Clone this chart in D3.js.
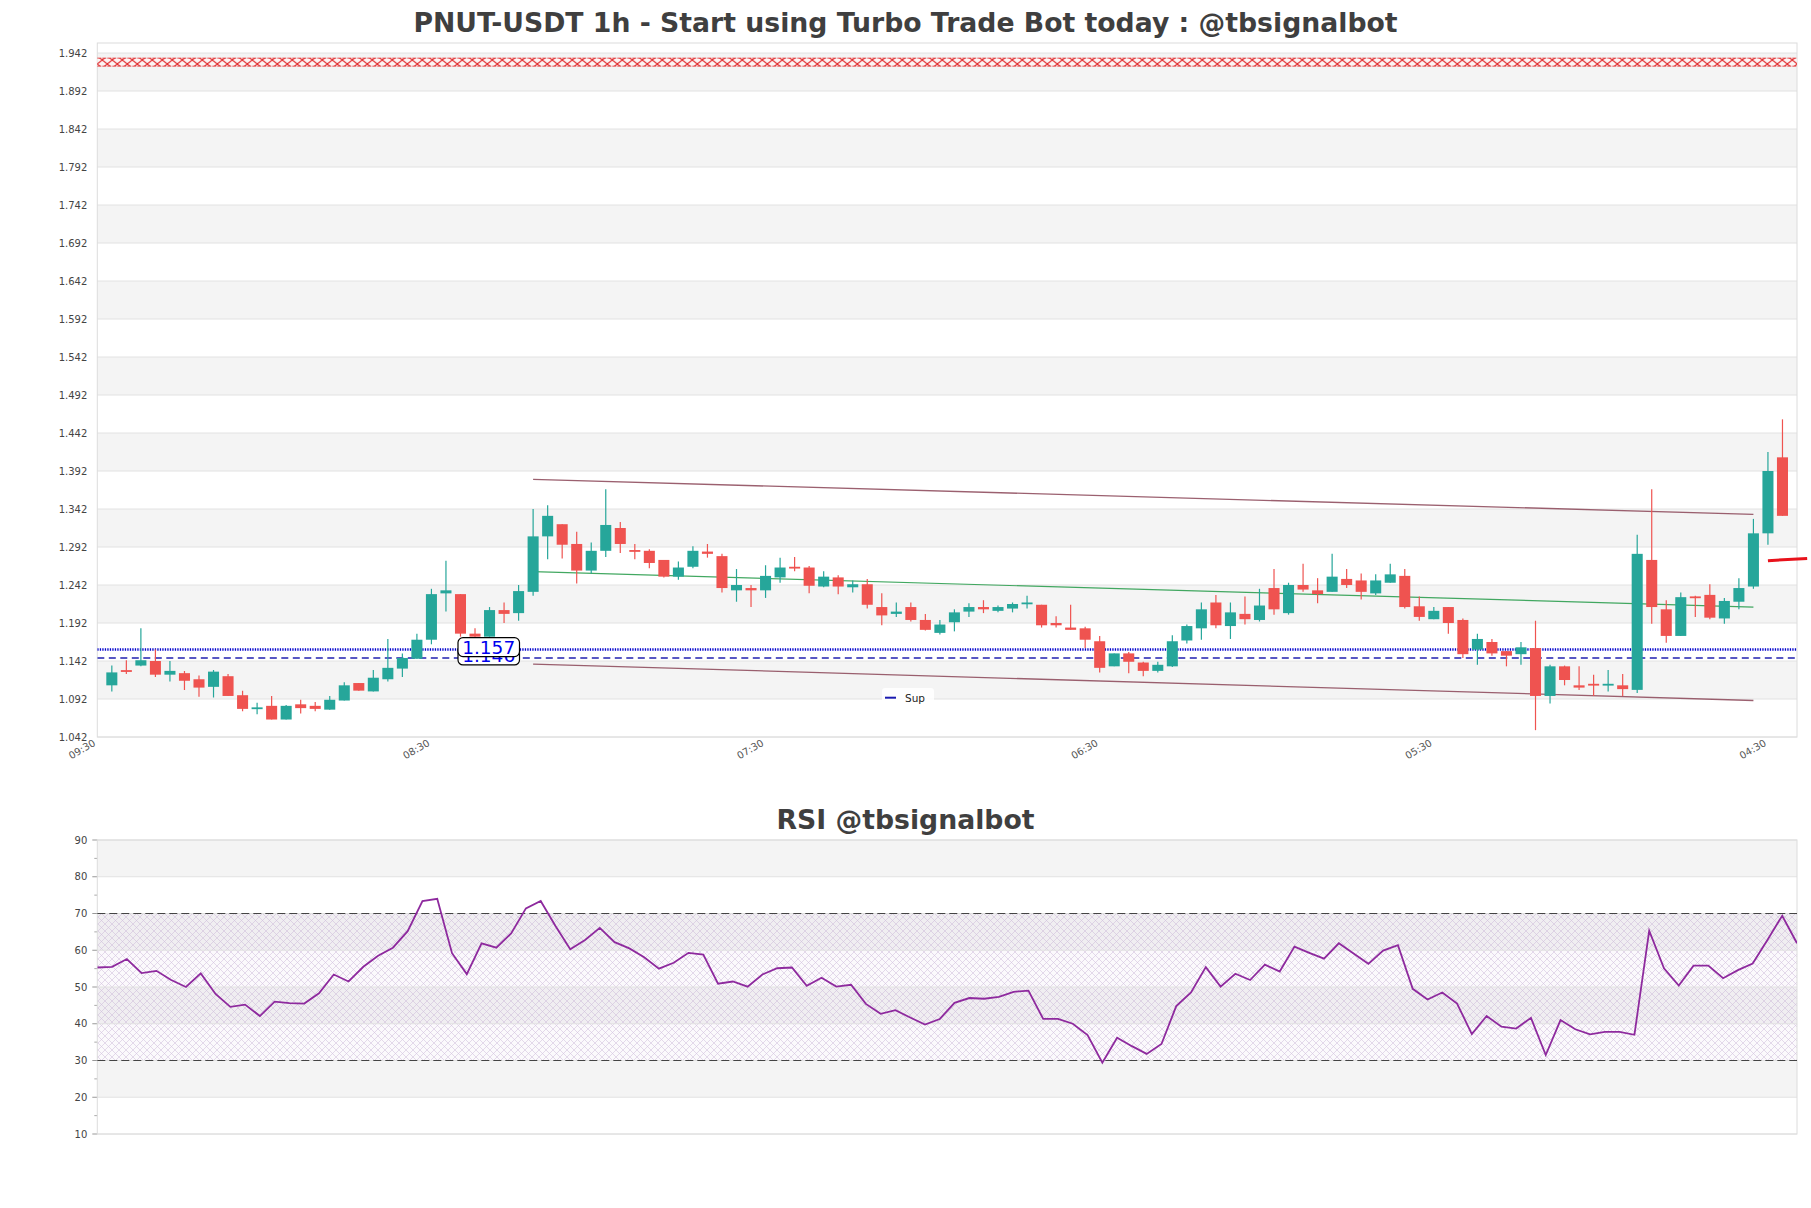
<!DOCTYPE html>
<html>
<head>
<meta charset="utf-8">
<script src="https://cdn.jsdelivr.net/npm/d3@7"></script>
<style>
  body { margin: 0; background: #fff; }
  svg text { font-family: "DejaVu Sans", sans-serif; }
</style>
</head>
<body>
<svg id="chart"></svg>
<script>
// ---- data ----
var opens  = [1.110,1.130,1.136,1.142,1.124,1.126,1.118,1.108,1.122,1.097,1.080,1.083,1.065,1.085,1.083,1.078,1.090,1.113,1.102,1.118,
              1.132,1.145,1.170,1.231,1.230,1.178,1.174,1.209,1.205,1.233,1.306,1.322,1.296,1.261,1.287,1.317,1.288,1.287,1.275,1.253,
              1.266,1.286,1.280,1.235,1.238,1.235,1.252,1.266,1.265,1.240,1.252,1.239,1.243,1.213,1.204,1.213,1.196,1.179,1.193,1.207,
              1.213,1.208,1.211,1.217,1.216,1.192,1.186,1.185,1.168,1.135,1.152,1.140,1.129,1.135,1.169,1.185,1.219,1.188,1.204,1.196,
              1.238,1.205,1.242,1.235,1.233,1.250,1.248,1.231,1.245,1.254,1.214,1.197,1.213,1.196,1.157,1.167,1.155,1.151,1.159,1.096,
              1.135,1.110,1.112,1.110,1.110,1.104,1.275,1.210,1.175,1.227,1.229,1.198,1.220,1.240,1.310,1.410];
var highs  = [1.136,1.143,1.185,1.157,1.142,1.129,1.123,1.130,1.125,1.103,1.087,1.096,1.084,1.091,1.088,1.096,1.114,1.113,1.130,1.171,
              1.152,1.178,1.237,1.274,1.230,1.185,1.213,1.219,1.242,1.342,1.347,1.322,1.312,1.298,1.368,1.325,1.296,1.289,1.275,1.273,
              1.293,1.296,1.283,1.263,1.242,1.268,1.278,1.279,1.267,1.260,1.255,1.248,1.250,1.231,1.219,1.219,1.204,1.196,1.210,1.218,
              1.222,1.215,1.219,1.228,1.216,1.201,1.216,1.187,1.175,1.152,1.154,1.141,1.141,1.176,1.190,1.219,1.229,1.219,1.227,1.237,
              1.263,1.245,1.270,1.251,1.283,1.263,1.257,1.256,1.270,1.263,1.227,1.213,1.213,1.198,1.178,1.171,1.155,1.167,1.195,1.137,
              1.136,1.135,1.124,1.130,1.125,1.308,1.368,1.222,1.232,1.228,1.243,1.225,1.251,1.329,1.417,1.460];
var lows   = [1.102,1.125,1.135,1.121,1.115,1.104,1.095,1.094,1.096,1.076,1.072,1.065,1.065,1.073,1.076,1.078,1.090,1.103,1.102,1.115,
              1.121,1.145,1.164,1.207,1.174,1.172,1.174,1.192,1.195,1.228,1.276,1.277,1.244,1.257,1.279,1.284,1.276,1.264,1.252,1.249,
              1.264,1.278,1.232,1.220,1.213,1.225,1.245,1.260,1.231,1.239,1.230,1.232,1.211,1.189,1.200,1.194,1.182,1.177,1.181,1.200,
              1.205,1.206,1.206,1.211,1.186,1.186,1.183,1.159,1.127,1.135,1.126,1.122,1.127,1.134,1.165,1.170,1.185,1.171,1.190,1.194,
              1.203,1.203,1.233,1.218,1.233,1.238,1.223,1.229,1.245,1.211,1.195,1.197,1.178,1.146,1.137,1.149,1.135,1.137,1.051,1.086,
              1.110,1.104,1.096,1.102,1.096,1.100,1.191,1.166,1.175,1.200,1.197,1.191,1.210,1.237,1.295,1.333];
var closes = [1.127,1.128,1.143,1.124,1.129,1.116,1.107,1.128,1.096,1.079,1.081,1.065,1.083,1.080,1.079,1.091,1.110,1.103,1.120,1.133,
              1.146,1.170,1.230,1.235,1.178,1.174,1.209,1.204,1.234,1.306,1.333,1.295,1.261,1.287,1.321,1.296,1.286,1.271,1.253,1.265,
              1.287,1.283,1.238,1.242,1.235,1.254,1.265,1.264,1.241,1.253,1.240,1.243,1.216,1.202,1.207,1.196,1.183,1.190,1.206,1.213,
              1.210,1.213,1.217,1.219,1.189,1.189,1.183,1.170,1.133,1.152,1.141,1.129,1.137,1.168,1.188,1.210,1.189,1.206,1.197,1.215,
              1.210,1.242,1.236,1.230,1.253,1.242,1.233,1.248,1.256,1.213,1.200,1.208,1.192,1.151,1.171,1.152,1.149,1.160,1.096,1.135,
              1.117,1.107,1.110,1.112,1.105,1.283,1.213,1.175,1.226,1.225,1.199,1.221,1.238,1.310,1.392,1.333];

var rsiValues = [55.3,55.5,57.6,53.8,54.4,51.9,50.0,53.7,48.1,44.6,45.2,42.1,46.0,45.6,45.5,48.3,53.4,51.5,55.5,58.5,
                 60.7,65.2,73.4,74.0,59.2,53.5,61.9,60.7,64.6,71.4,73.4,66.6,60.3,62.8,66.1,62.2,60.5,58.1,55.0,56.6,
                 59.3,58.8,50.9,51.5,50.1,53.4,55.1,55.3,50.3,52.5,50.1,50.6,45.4,42.7,43.7,41.7,39.8,41.3,45.7,47.0,
                 46.8,47.3,48.7,49.0,41.3,41.3,40.0,36.9,29.4,36.2,33.9,31.8,34.5,44.8,48.5,55.4,50.1,53.6,51.9,56.1,
                 54.2,61.0,59.3,57.7,61.9,59.1,56.3,59.9,61.4,49.5,46.6,48.5,45.5,37.2,42.1,39.2,38.7,41.6,31.5,41.0,
                 38.5,37.1,37.8,37.8,37.0,65.3,55.1,50.4,55.8,55.8,52.4,54.6,56.4,62.8,69.4,61.9];

var xTickIdx    = [0, 23, 46, 69, 92, 115];
var xTickLabels = ["09:30", "08:30", "07:30", "06:30", "05:30", "04:30"];
var priceTicks  = [1.042,1.092,1.142,1.192,1.242,1.292,1.342,1.392,1.442,1.492,1.542,1.592,1.642,1.692,1.742,1.792,1.842,1.892,1.942];
var rsiTicks    = [10, 20, 30, 40, 50, 60, 70, 80, 90];
var rsiMinor    = [15, 25, 35, 45, 55, 65, 75, 85];

var resistLevel = 1.930;
var supDotted   = 1.157;
var supDashed   = 1.146;
var upperLine   = [[30, 1.381], [114, 1.335]];
var lowerLine   = [[30, 1.138], [114, 1.090]];
var midLine     = [[30, 1.2595], [114, 1.213]];
var lastMark    = [[115, 1.274], [117.7, 1.277]];

// ---- layout ----
var W = 1811, H = 1208;
var L = 97.3, R = 1797;
var mTop = 43, mBot = 737;
var rTop = 840, rBot = 1134;
var up = "#26a69a", down = "#ef5350";

var svg = d3.select("#chart").attr("width", W).attr("height", H);
var defs = svg.append("defs");

var hatch = defs.append("pattern").attr("id", "rsiHatch")
  .attr("patternUnits", "userSpaceOnUse").attr("width", 7).attr("height", 7);
hatch.append("path").attr("d", "M0,0L7,7M7,0L0,7M-1,6L1,8M6,-1L8,1")
  .attr("stroke", "#c7b3d6").attr("stroke-width", 0.6).attr("fill", "none");

var xHatch = defs.append("pattern").attr("id", "resHatch")
  .attr("patternUnits", "userSpaceOnUse").attr("width", 10).attr("height", 8)
  .attr("x", L).attr("y", 0);
xHatch.append("path").attr("d", "M0,0L10,8M10,0L0,8")
  .attr("stroke", "#e0282a").attr("stroke-width", 1.1).attr("fill", "none");

defs.append("clipPath").attr("id", "clipMain").append("rect")
  .attr("x", L).attr("y", mTop).attr("width", R - L).attr("height", mBot - mTop);
defs.append("clipPath").attr("id", "clipRsi").append("rect")
  .attr("x", L).attr("y", rTop).attr("width", R - L).attr("height", rBot - rTop);

// ---- main chart ----
var x = d3.scaleLinear().domain([0, 117]).range([L, R]);
var y = d3.scaleLinear().domain([1.042, 1.9552]).range([mBot, mTop]);

var main = svg.append("g");
main.selectAll(".band").data(priceTicks.filter(function(d, i) { return i % 2 == 1 && i < priceTicks.length - 1; }))
  .enter().append("rect")
  .attr("x", L).attr("width", R - L)
  .attr("y", function(d) { return y(d + 0.05); })
  .attr("height", function(d) { return y(d) - y(d + 0.05); })
  .attr("fill", "#f4f4f4");

main.selectAll(".grid").data(priceTicks).enter().append("line")
  .attr("x1", L).attr("x2", R)
  .attr("y1", function(d) { return y(d); }).attr("y2", function(d) { return y(d); })
  .attr("stroke", "#e2e2e2").attr("stroke-width", 1);

main.selectAll(".ylab").data(priceTicks).enter().append("text")
  .attr("x", L - 10).attr("y", function(d) { return y(d); })
  .attr("dy", "0.35em").attr("text-anchor", "end")
  .attr("font-size", 10).attr("fill", "#444")
  .text(function(d) { return d.toFixed(3); });

main.append("rect").attr("x", L).attr("y", mTop).attr("width", R - L).attr("height", mBot - mTop)
  .attr("fill", "none").attr("stroke", "#dcdcdc");

// resistance hatch band
var ry = y(resistLevel);
main.append("rect").attr("x", L).attr("width", R - L).attr("y", ry - 4).attr("height", 8)
  .attr("fill", "#fff3f3").attr("fill-opacity", 0.7);
main.append("rect").attr("x", L).attr("width", R - L).attr("y", ry - 4).attr("height", 8)
  .attr("fill", "url(#resHatch)");
main.selectAll(".resEdge").data([-4, 4]).enter().append("line")
  .attr("x1", L).attr("x2", R).attr("y1", function(d) { return ry + d; }).attr("y2", function(d) { return ry + d; })
  .attr("stroke", "#e0282a").attr("stroke-width", 0.8).attr("stroke-dasharray", "4,1");

var plot = main.append("g").attr("clip-path", "url(#clipMain)");

// support lines
plot.append("line").attr("x1", L).attr("x2", R).attr("y1", y(supDotted)).attr("y2", y(supDotted))
  .attr("stroke", "#0000cc").attr("stroke-width", 2.5).attr("stroke-dasharray", "1.3,1.2");
plot.append("line").attr("x1", L).attr("x2", R).attr("y1", y(supDashed)).attr("y2", y(supDashed))
  .attr("stroke", "#2020b0").attr("stroke-width", 1.5).attr("stroke-dasharray", "7,4.5");

// channel lines
var line = d3.line().x(function(d) { return x(d[0]); }).y(function(d) { return y(d[1]); });
plot.append("path").attr("d", line(upperLine)).attr("fill", "none").attr("stroke", "#8a4456").attr("stroke-width", 1.3).attr("stroke-opacity", 0.85);
plot.append("path").attr("d", line(lowerLine)).attr("fill", "none").attr("stroke", "#8a4456").attr("stroke-width", 1.3).attr("stroke-opacity", 0.85);
plot.append("path").attr("d", line(midLine)).attr("fill", "none").attr("stroke", "#2e9e50").attr("stroke-width", 1.2).attr("stroke-opacity", 0.9);

// candles
var step = x(1) - x(0);
var bw = step * 0.76;
var candles = plot.selectAll(".candle").data(opens).enter().append("g");
candles.append("line")
  .attr("x1", function(d, i) { return x(i + 1); }).attr("x2", function(d, i) { return x(i + 1); })
  .attr("y1", function(d, i) { return y(highs[i]); }).attr("y2", function(d, i) { return y(lows[i]); })
  .attr("stroke", function(d, i) { return closes[i] >= opens[i] ? up : down; })
  .attr("stroke-width", 1.2);
candles.append("rect")
  .attr("x", function(d, i) { return x(i + 1) - bw / 2; })
  .attr("width", bw)
  .attr("y", function(d, i) { return y(Math.max(opens[i], closes[i])); })
  .attr("height", function(d, i) { return Math.max(1.8, Math.abs(y(opens[i]) - y(closes[i]))); })
  .attr("fill", function(d, i) { return closes[i] >= opens[i] ? up : down; });

// last price mark (drawn past the frame)
main.append("path").attr("d", line(lastMark)).attr("stroke", "#e8121b").attr("stroke-width", 3).attr("fill", "none");

// level labels
var labels = [{ v: supDashed, t: "1.146" }, { v: supDotted, t: "1.157" }];
var lg = main.selectAll(".lvl").data(labels).enter().append("g");
lg.append("rect").attr("x", 458).attr("width", 61.5).attr("height", 19).attr("rx", 5)
  .attr("y", function(d) { return y(d.v) - 12; })
  .attr("fill", "#fff").attr("stroke", "#000").attr("stroke-width", 1.2);
lg.append("text").attr("x", 488.7).attr("y", function(d) { return y(d.v) - 2.5; })
  .attr("dy", "0.36em").attr("text-anchor", "middle")
  .attr("font-size", 18.5).attr("fill", "#0000ee")
  .text(function(d) { return d.t; });

// legend
var leg = main.append("g");
leg.append("rect").attr("x", 882).attr("y", 688).attr("width", 52).attr("height", 22).attr("rx", 3)
  .attr("fill", "#fff").attr("fill-opacity", 0.85);
leg.append("line").attr("x1", 885).attr("x2", 896).attr("y1", 697.7).attr("y2", 697.7)
  .attr("stroke", "#1a1ab0").attr("stroke-width", 2);
leg.append("text").attr("x", 905).attr("y", 701.5).attr("font-size", 10.5).attr("fill", "#222").text("Sup");

// x tick labels
main.selectAll(".xlab").data(xTickIdx).enter().append("text")
  .attr("transform", function(d) { return "translate(" + (x(d) - 1) + "," + 745 + ") rotate(-30)"; })
  .attr("text-anchor", "end").attr("font-size", 10).attr("fill", "#555")
  .text(function(d, i) { return xTickLabels[i]; });

// title
svg.append("text").attr("x", W / 2).attr("y", 32).attr("text-anchor", "middle")
  .attr("font-size", 26.7).attr("font-weight", "bold").attr("fill", "#3f3f3f")
  .text("PNUT-USDT 1h - Start using Turbo Trade Bot today : @tbsignalbot");

// ---- RSI chart ----
var xr = d3.scaleLinear().domain([1, rsiValues.length]).range([L, R]);
var yr = d3.scaleLinear().domain([10, 90]).range([rBot, rTop]);
var rsi = svg.append("g");

rsi.selectAll(".band").data([20, 40, 60, 80]).enter().append("rect")
  .attr("x", L).attr("width", R - L)
  .attr("y", function(d) { return yr(d + 10); })
  .attr("height", function(d) { return yr(d) - yr(d + 10); })
  .attr("fill", "#f4f4f4");

rsi.append("rect").attr("x", L).attr("width", R - L).attr("y", yr(70)).attr("height", yr(30) - yr(70))
  .attr("fill", "#b89ccc").attr("fill-opacity", 0.06);
rsi.append("rect").attr("x", L).attr("width", R - L).attr("y", yr(70)).attr("height", yr(30) - yr(70))
  .attr("fill", "url(#rsiHatch)").attr("opacity", 0.8);

rsi.selectAll(".grid").data(rsiTicks).enter().append("line")
  .attr("x1", L).attr("x2", R)
  .attr("y1", function(d) { return yr(d); }).attr("y2", function(d) { return yr(d); })
  .attr("stroke", "#e2e2e2");

rsi.selectAll(".tick").data(rsiTicks).enter().append("line")
  .attr("x1", L - 5).attr("x2", L)
  .attr("y1", function(d) { return yr(d); }).attr("y2", function(d) { return yr(d); })
  .attr("stroke", "#999");
rsi.selectAll(".mtick").data(rsiMinor).enter().append("line")
  .attr("x1", L - 3).attr("x2", L)
  .attr("y1", function(d) { return yr(d); }).attr("y2", function(d) { return yr(d); })
  .attr("stroke", "#aaa");
rsi.selectAll(".ylab").data(rsiTicks).enter().append("text")
  .attr("x", L - 10).attr("y", function(d) { return yr(d); })
  .attr("dy", "0.35em").attr("text-anchor", "end")
  .attr("font-size", 10).attr("fill", "#444")
  .text(function(d) { return d; });

rsi.append("rect").attr("x", L).attr("y", rTop).attr("width", R - L).attr("height", rBot - rTop)
  .attr("fill", "none").attr("stroke", "#dcdcdc");

rsi.selectAll(".lvl").data([70, 30]).enter().append("line")
  .attr("x1", L).attr("x2", R)
  .attr("y1", function(d) { return yr(d); }).attr("y2", function(d) { return yr(d); })
  .attr("stroke", "#444").attr("stroke-width", 1.2).attr("stroke-dasharray", "8,4");

var rsiLine = d3.line().x(function(d, i) { return xr(i + 1); }).y(function(d) { return yr(d); });
rsi.append("g").attr("clip-path", "url(#clipRsi)").append("path")
  .attr("d", rsiLine(rsiValues)).attr("fill", "none")
  .attr("stroke", "#8e2a9e").attr("stroke-width", 1.8);

svg.append("text").attr("x", W / 2).attr("y", 829).attr("text-anchor", "middle")
  .attr("font-size", 26.7).attr("font-weight", "bold").attr("fill", "#3f3f3f")
  .text("RSI @tbsignalbot");
</script>
</body>
</html>
